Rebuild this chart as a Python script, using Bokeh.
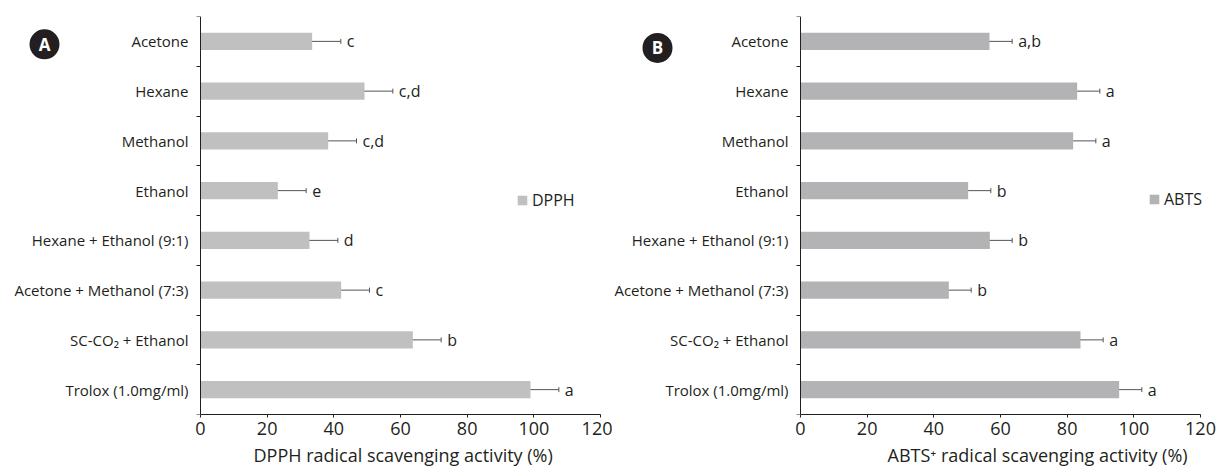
from bokeh.plotting import figure
from bokeh.layouts import row
from bokeh.models import (ColumnDataSource, FixedTicker, Whisker, TeeHead, Legend,
                          LegendItem, Title)
from bokeh.core.properties import value
from bokeh.embed import file_html
from bokeh.resources import INLINE

# ---------------- data (top to bottom as shown) ----------------
solvents = ["Acetone", "Hexane", "Methanol", "Ethanol", "Hexane + Ethanol (9:1)",
            "Acetone + Methanol (7:3)", "SC-CO\u2082 + Ethanol", "Trolox (1.0mg/ml)"]

dpph = [33.5, 49.2, 38.3, 23.2, 32.7, 42.2, 63.7, 99.0]
dpph_err = [8.6, 8.5, 8.5, 8.5, 8.5, 8.5, 8.5, 8.5]
dpph_sig = ["c", "c,d", "c,d", "e", "d", "c", "b", "a"]

abts = [56.7, 83.0, 81.8, 50.3, 56.8, 44.5, 84.0, 95.6]
abts_err = [6.8, 6.8, 6.8, 6.8, 6.7, 6.7, 6.8, 6.8]
abts_sig = ["a,b", "a", "a", "b", "b", "b", "a", "a"]

x_ticks = [0, 20, 40, 60, 80, 100, 120]
X_MAX = 120

FONT = "Open Sans"
TXT = "#231f20"
H = 469
PX_PER_UNIT = 400 / X_MAX   # 400 px of frame for 0..120


def panel(vals, errs, sig, bar_color, legend_name, xlabel, letter,
          width, axis_px, top_border, legend_loc, badge_px, title_offset):
    n = len(solvents)
    ypos = [n - 0.5 - i for i in range(n)]
    src = ColumnDataSource(dict(
        y=ypos, v=vals,
        lo=[a - b for a, b in zip(vals, errs)],
        hi=[a + b for a, b in zip(vals, errs)],
        sig=sig))

    # frame spans the whole canvas width; value 0 sits at axis_px
    x_start = -axis_px / PX_PER_UNIT
    x_end = x_start + width / PX_PER_UNIT

    p = figure(width=width, height=H, output_backend="svg", toolbar_location=None,
               x_range=(x_start, x_end), y_range=(0, n),
               min_border_left=0, min_border_right=0,
               min_border_top=top_border, min_border_bottom=52)
    p.outline_line_color = None
    p.grid.visible = False
    p.background_fill_color = "white"
    p.border_fill_color = "white"

    r = p.hbar(y="y", right="v", left=0, height=0.35, source=src,
               fill_color=bar_color, line_color=None)

    w = Whisker(base="y", lower="lo", upper="hi", dimension="width", source=src,
                line_color="#555555", line_width=1,
                upper_head=TeeHead(size=5, line_color="#555555", line_width=1),
                lower_head=TeeHead(size=5, line_color="#555555", line_width=1))
    p.add_layout(w)

    p.text(x="hi", y="y", text="sig", source=src, x_offset=6,
           text_baseline="middle", text_align="left",
           text_font=value(FONT), text_font_size="16px", text_color=TXT)

    # x axis (line limited to 0..120)
    xa = p.xaxis[0]
    xa.bounds = (0, X_MAX)
    xa.ticker = FixedTicker(ticks=x_ticks)
    xa.axis_line_color = TXT
    xa.major_tick_line_color = TXT
    xa.major_tick_out = 3
    xa.major_tick_in = 0
    xa.minor_tick_line_color = None
    xa.major_label_text_font = FONT
    xa.major_label_text_font_size = "18px"
    xa.major_label_text_color = TXT
    xa.major_label_standoff = 4

    p.add_layout(Title(text=xlabel, align="left", offset=title_offset, standoff=6,
                       text_font=FONT, text_font_size="18px",
                       text_font_style="normal", text_color=TXT), "below")

    # y axis fixed at x = 0: labels at band centres, ticks at band boundaries
    ya = p.yaxis[0]
    ya.fixed_location = 0
    ya.ticker = FixedTicker(ticks=ypos, minor_ticks=list(range(n + 1)))
    ya.major_label_overrides = {y: s for y, s in zip(ypos, solvents)}
    ya.axis_line_color = TXT
    ya.major_tick_line_color = None
    ya.major_tick_out = 0
    ya.major_tick_in = 0
    ya.minor_tick_line_color = TXT
    ya.minor_tick_out = 4
    ya.minor_tick_in = 0
    ya.major_label_text_font = FONT
    ya.major_label_text_font_size = "15px"
    ya.major_label_text_color = TXT
    ya.major_label_standoff = 8

    leg = Legend(items=[LegendItem(label=legend_name, renderers=[r])],
                 location=legend_loc, glyph_width=12, glyph_height=12,
                 label_standoff=4, padding=0, margin=0, spacing=0,
                 border_line_color=None, background_fill_alpha=0,
                 label_text_font=FONT, label_text_font_size="16px",
                 label_text_color=TXT, label_height=20)
    p.add_layout(leg)

    # panel badge (decorative): dark disc with white letter
    frame_h = 417 - top_border
    bx = x_start + badge_px[0] / PX_PER_UNIT
    by = n - (badge_px[1] - top_border) * n / frame_h
    p.scatter(x=[bx], y=[by], marker="circle", size=30, fill_color=TXT,
              line_color=None)
    p.text(x=[bx], y=[by], text=[letter], text_align="center",
           text_baseline="middle", text_color="white", text_font=value(FONT),
           text_font_style="bold", text_font_size="17px")
    return p


p1 = panel(dpph, dpph_err, dpph_sig, "#c0c0c0", "DPPH",
           "DPPH radical scavenging activity (%)", "A",
           width=612, axis_px=200, top_border=16,
           legend_loc=(516, 203), badge_px=(44, 44), title_offset=253)
p2 = panel(abts, abts_err, abts_sig, "#b3b3b5", "ABTS",
           "ABTS\u207a radical scavenging activity (%)", "B",
           width=604, axis_px=188, top_border=12,
           legend_loc=(536, 204), badge_px=(45, 44), title_offset=275)

layout = row(p1, p2)
open("out.html", "w").write(file_html(layout, INLINE))
